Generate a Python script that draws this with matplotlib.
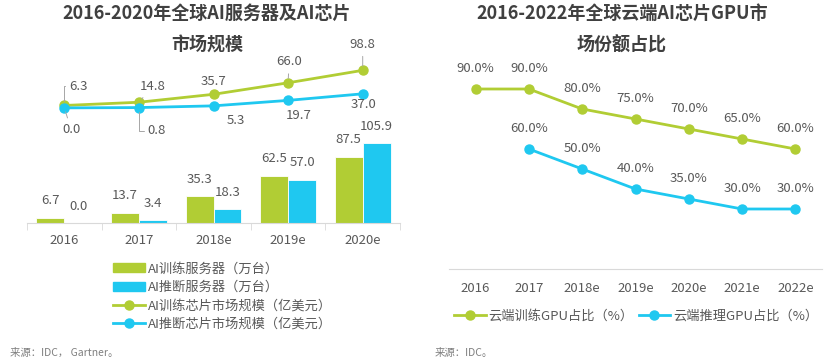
import numpy as np
import matplotlib.pyplot as plt
from matplotlib.patches import Patch
from matplotlib.lines import Line2D

plt.rcParams['font.family'] = ['Noto Sans CJK SC', 'DejaVu Sans']

# Data - left chart
years_l = ['2016', '2017', '2018e', '2019e', '2020e']
train_servers = [6.7, 13.7, 35.3, 62.5, 87.5]
infer_servers = [0.0, 3.4, 18.3, 57.0, 105.9]
train_chip = [6.3, 14.8, 35.7, 66.0, 98.8]
infer_chip = [0.0, 0.8, 5.3, 19.7, 37.0]

# Data - right chart
years_r = ['2016', '2017', '2018e', '2019e', '2020e', '2021e', '2022e']
train_gpu = [90.0, 90.0, 80.0, 75.0, 70.0, 65.0, 60.0]
infer_gpu = [None, 60.0, 50.0, 40.0, 35.0, 30.0, 30.0]

green = '#b1cd34'
blue = '#1fc8f0'
txt = '#595959'
grey = '#d9d9d9'
fs = 9.5

fig = plt.figure(figsize=(8.3, 3.6), dpi=100)

# ---------- left chart ----------
ax = fig.add_axes([27/830, 137/360, 373/830, 163/360])
x = np.arange(len(years_l))
w = 0.375
ax.bar(x - w/2, train_servers, w, color=green, edgecolor='white', linewidth=0.6)
ax.bar(x + w/2, infer_servers, w, color=blue, edgecolor='white', linewidth=0.6)
ax.set_xlim(-0.5, 4.5)
ax.set_ylim(0, 216)
for i in range(len(x)):
    ax.annotate(f'{train_servers[i]:.1f}', (x[i] - w/2, train_servers[i]), textcoords='offset pixels',
                xytext=(0, 17), ha='center', va='center', fontsize=fs, color=txt)
    ax.annotate(f'{infer_servers[i]:.1f}', (x[i] + w/2, infer_servers[i]), textcoords='offset pixels',
                xytext=(0, 17), ha='center', va='center', fontsize=fs, color=txt)

ax.set_xticks(x)
ax.set_xticklabels(years_l, fontsize=fs, color=txt)
ax.set_xticks(np.arange(-0.5, 5, 1), minor=True)
ax.tick_params(axis='x', which='major', length=0, pad=8)
ax.tick_params(axis='x', which='minor', length=5, color=grey)
ax.set_yticks([])
for s in ['top', 'right', 'left']:
    ax.spines[s].set_visible(False)
ax.spines['bottom'].set_color(grey)

ax2 = ax.twinx()
ax2.set_ylim(-303, 126)
ax2.plot(x, train_chip, color=green, lw=2, marker='o', ms=6.5)
ax2.plot(x, infer_chip, color=blue, lw=2, marker='o', ms=6.5)
ax2.set_yticks([])
for s in ax2.spines.values():
    s.set_visible(False)

straight = dict(arrowstyle='-', color='#a6a6a6', lw=0.7, shrinkA=2, shrinkB=3)
elbow = dict(arrowstyle='-', color='#a6a6a6', lw=0.7, shrinkA=1, shrinkB=3,
             connectionstyle='angle,angleA=0,angleB=90,rad=0')
g_off = [(14, 19, elbow), (14, 16, straight), (0, 13, None), (1, 21, straight), (0, 26, straight)]
b_off = [(7, -22, straight), (18, -23, elbow), (22, -15, None), (11, -15, None), (1, -11, None)]
for i in range(len(x)):
    dx, dy, lead = g_off[i]
    ax2.annotate(f'{train_chip[i]:.1f}', (x[i], train_chip[i]), textcoords='offset pixels',
                 xytext=(dx, dy), ha='center', va='center', fontsize=fs, color=txt,
                 arrowprops=lead)
    dx, dy, lead = b_off[i]
    ax2.annotate(f'{infer_chip[i]:.1f}', (x[i], infer_chip[i]), textcoords='offset pixels',
                 xytext=(dx, dy), ha='center', va='center', fontsize=fs, color=txt,
                 arrowprops=lead)

handles_l = [Patch(color=green), Patch(color=blue),
             Line2D([], [], color=green, lw=2, marker='o', ms=6.5),
             Line2D([], [], color=blue, lw=2, marker='o', ms=6.5)]
labels_l = ['AI训练服务器（万台）', 'AI推断服务器（万台）',
            'AI训练芯片市场规模（亿美元）', 'AI推断芯片市场规模（亿美元）']
fig.legend(handles_l, labels_l, loc='upper left', bbox_to_anchor=(108/830, 1 - 257/360),
           frameon=False, fontsize=fs, labelcolor=txt, handlelength=2.4, handletextpad=0.2,
           labelspacing=0.42, borderaxespad=0)

fig.text(207/830, 1 - 13/360, '2016-2020年全球AI服务器及AI芯片', ha='center', va='center',
         fontsize=13, fontweight='bold', color='#404040')
fig.text(207/830, 1 - 45/360, '市场规模', ha='center', va='center',
         fontsize=13, fontweight='bold', color='#404040')
fig.text(10/830, 1 - 353/360, '来源：IDC， Gartner。', ha='left', va='center', fontsize=7.5, color='#7f7f7f')

# ---------- right chart ----------
bx = fig.add_axes([449/830, 91/360, 373/830, 209/360])
xr = np.arange(len(years_r))
tg = np.array(train_gpu, dtype=float)
ig = np.array([np.nan if v is None else v for v in infer_gpu], dtype=float)
bx.plot(xr, tg, color=green, lw=2, marker='o', ms=6.5)
bx.plot(xr, ig, color=blue, lw=2, marker='o', ms=6.5)
bx.set_xlim(-0.5, 6.5)
bx.set_ylim(0, 104.5)
for i in range(len(xr)):
    bx.annotate(f'{tg[i]:.1f}%', (xr[i], tg[i]), textcoords='offset pixels', xytext=(0, 20),
                ha='center', va='center', fontsize=fs, color=txt)
    if not np.isnan(ig[i]):
        bx.annotate(f'{ig[i]:.1f}%', (xr[i], ig[i]), textcoords='offset pixels', xytext=(0, 20),
                    ha='center', va='center', fontsize=fs, color=txt)
bx.set_xticks(xr)
bx.set_xticklabels(years_r, fontsize=fs, color=txt)
bx.tick_params(axis='x', length=0, pad=9)
bx.set_yticks([])
for s in ['top', 'right', 'left']:
    bx.spines[s].set_visible(False)
bx.spines['bottom'].set_color(grey)

handles_r = [Line2D([], [], color=green, lw=2, marker='o', ms=6.5),
             Line2D([], [], color=blue, lw=2, marker='o', ms=6.5)]
labels_r = ['云端训练GPU占比（%）', '云端推理GPU占比（%）']
fig.legend(handles_r, labels_r, loc='center', bbox_to_anchor=(636/830, 1 - 316/360), ncol=2,
           frameon=False, fontsize=fs, labelcolor=txt, handlelength=2.4, handletextpad=0.2,
           columnspacing=0.4, borderaxespad=0)

fig.text(622/830, 1 - 13/360, '2016-2022年全球云端AI芯片GPU市', ha='center', va='center',
         fontsize=13, fontweight='bold', color='#404040')
fig.text(622/830, 1 - 45/360, '场份额占比', ha='center', va='center',
         fontsize=13, fontweight='bold', color='#404040')
fig.text(435/830, 1 - 353/360, '来源：IDC。', ha='left', va='center', fontsize=7.5, color='#7f7f7f')

fig.savefig('out.png', dpi=100)
